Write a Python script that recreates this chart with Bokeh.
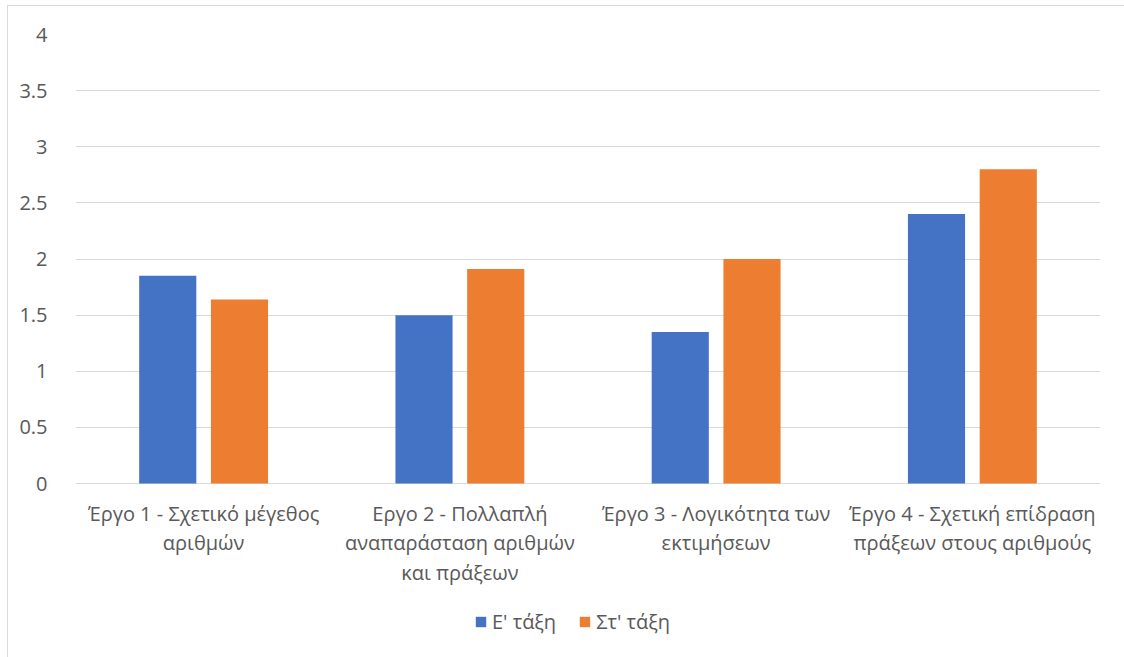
from bokeh.plotting import figure
from bokeh.models import FixedTicker, Legend, LegendItem, ColumnDataSource
from bokeh.core.properties import value
from bokeh.transform import dodge
from bokeh.embed import file_html
from bokeh.resources import INLINE

# Task scores per grade
categories = [
    "Έργο 1 - Σχετικό μέγεθος\nαριθμών",
    "Εργο 2 - Πολλαπλή\nαναπαράσταση αριθμών\nκαι πράξεων",
    "Έργο 3 - Λογικότητα των\nεκτιμήσεων",
    "Έργο 4 - Σχετική επίδραση\nπράξεων στους αριθμούς",
]
grade_e = [1.85, 1.5, 1.35, 2.4]
grade_st = [1.64, 1.91, 2.0, 2.8]
series_names = ["Ε' τάξη", "Στ' τάξη"]
y_ticks = [0, 0.5, 1, 1.5, 2, 2.5, 3, 3.5, 4]
y_tick_labels = ["0", "0.5", "1", "1.5", "2", "2.5", "3", "3.5", "4"]

BLUE = "#4472c4"
ORANGE = "#ed7d31"
GRID = "#d9d9d9"
TEXT = "#595959"
FONT = "Open Sans"
FS = "20px"

# value axis spans 0..4 over 449 px; the frame runs further down so that the
# category labels and the legend can sit inside it
PX_PER_UNIT = 449 / 4
FRAME_H = 623
Y_MIN = 4 - FRAME_H / PX_PER_UNIT

source = ColumnDataSource(dict(cat=categories, e=grade_e, st=grade_st,
                               base=[0] * len(categories)))

p = figure(
    x_range=categories,
    y_range=(Y_MIN, 4),
    frame_width=1025,
    frame_height=FRAME_H,
    output_backend="svg",
    toolbar_location=None,
    min_border_left=67,
    min_border_right=24,
    min_border_top=28,
    min_border_bottom=0,
)
p.margin = (5, 0, 0, 7)
p.styles = {"border-top": f"1px solid {GRID}", "border-left": f"1px solid {GRID}"}
p.outline_line_color = None
p.background_fill_color = "white"
p.border_fill_color = "white"

r1 = p.vbar(x=dodge("cat", -0.14, range=p.x_range), top="e", width=0.223,
            source=source, fill_color=BLUE, line_color=None)
r2 = p.vbar(x=dodge("cat", 0.14, range=p.x_range), top="st", width=0.223,
            source=source, fill_color=ORANGE, line_color=None)

# value axis
p.yaxis.ticker = FixedTicker(ticks=y_ticks)
p.yaxis.major_label_overrides = {t: s for t, s in zip(y_ticks, y_tick_labels)}
p.yaxis.axis_line_color = None
p.yaxis.major_tick_line_color = None
p.yaxis.minor_tick_line_color = None
p.yaxis.major_label_standoff = 22
p.yaxis.major_label_text_font = FONT
p.yaxis.major_label_text_font_size = FS
p.yaxis.major_label_text_color = TEXT

p.xaxis.visible = False
p.xgrid.grid_line_color = None
p.ygrid.ticker = FixedTicker(ticks=y_ticks)
p.ygrid.grid_line_color = GRID
p.ygrid.grid_line_width = 1

# category labels under the zero line
p.text(x="cat", y="base", text="cat", source=source,
       text_font=value(FONT), text_font_size=FS, text_color=TEXT,
       text_align="center", text_baseline="top", text_line_height=1.1,
       y_offset=16)

legend = Legend(
    items=[LegendItem(label=series_names[0], renderers=[r1]),
           LegendItem(label=series_names[1], renderers=[r2])],
    orientation="horizontal",
    location=(399, 22),
    label_text_font=FONT,
    label_text_font_size=FS,
    label_text_color=TEXT,
    glyph_width=13,
    glyph_height=13,
    spacing=22,
    label_standoff=5,
    border_line_color=None,
    background_fill_alpha=0,
    margin=0,
    padding=0,
)
p.add_layout(legend, "center")

open("out.html", "w").write(file_html(p, INLINE))
